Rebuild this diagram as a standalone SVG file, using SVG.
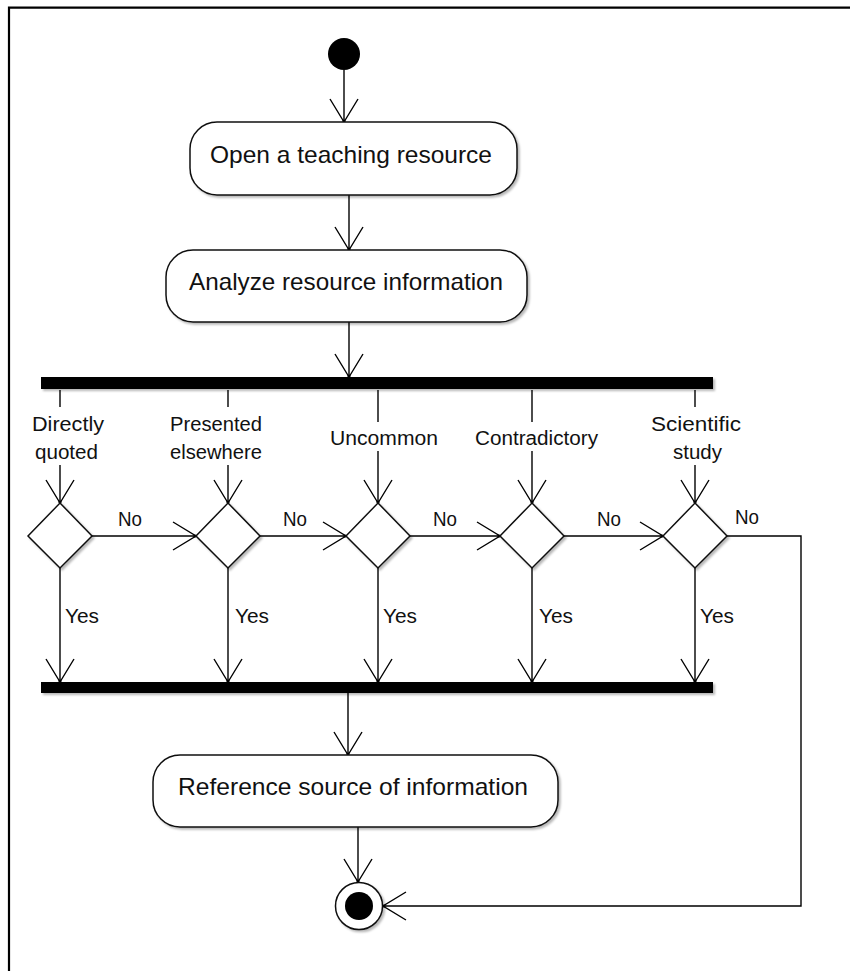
<svg xmlns="http://www.w3.org/2000/svg" width="850" height="971" viewBox="0 0 850 971">
  <style>
    .frame { fill: none; stroke: #000; stroke-width: 2.2; }
    .shape { fill: #fff; stroke: #111; stroke-width: 1.5; filter: url(#shadow); }
    .bar { fill: #000; filter: url(#shadow); }
    .edge { fill: none; stroke: #000; stroke-width: 1.4; }
    .big { font-family: "Liberation Sans", Arial, sans-serif; font-size: 24px; fill: #111; }
    .small { font-family: "Liberation Sans", Arial, sans-serif; font-size: 20px; fill: #111; }
  </style>
  <defs>
    <filter id="shadow" x="-10%" y="-10%" width="130%" height="140%">
      <feDropShadow dx="2" dy="2" stdDeviation="1" flood-color="#000" flood-opacity="0.28"/>
    </filter>
    <marker id="arrow" markerUnits="userSpaceOnUse" markerWidth="30" markerHeight="32" refX="24" refY="15" orient="auto" overflow="visible">
      <path d="M1,1 L24,15 L1,29" fill="none" stroke="#000" stroke-width="1.4"/>
      <circle cx="23" cy="15" r="1.6" fill="#000"/>
    </marker>
  </defs>

  <rect width="850" height="971" fill="#fff"/>
  <path class="frame" d="M9,971 V7.7 H850"/>

  <!-- connectors -->
  <g id="connectors">
    <line class="edge" x1="344" y1="70" x2="344" y2="122" marker-end="url(#arrow)"/>
    <line class="edge" x1="349" y1="195" x2="349" y2="250" marker-end="url(#arrow)"/>
    <line class="edge" x1="349" y1="322" x2="349" y2="377" marker-end="url(#arrow)"/>

    <!-- fork to decisions (interrupted by guard labels) -->
    <line class="edge" x1="60" y1="390" x2="60" y2="407"/>
    <line class="edge" x1="60" y1="465" x2="60" y2="503" marker-end="url(#arrow)"/>
    <line class="edge" x1="228" y1="390" x2="228" y2="407"/>
    <line class="edge" x1="228" y1="465" x2="228" y2="503" marker-end="url(#arrow)"/>
    <line class="edge" x1="378" y1="390" x2="378" y2="422"/>
    <line class="edge" x1="378" y1="451" x2="378" y2="503" marker-end="url(#arrow)"/>
    <line class="edge" x1="532" y1="390" x2="532" y2="422"/>
    <line class="edge" x1="532" y1="451" x2="532" y2="503" marker-end="url(#arrow)"/>
    <line class="edge" x1="695" y1="390" x2="695" y2="407"/>
    <line class="edge" x1="695" y1="465" x2="695" y2="503" marker-end="url(#arrow)"/>

    <!-- "No" chain -->
    <line class="edge" x1="92" y1="536" x2="196" y2="536" marker-end="url(#arrow)"/>
    <line class="edge" x1="260" y1="536" x2="346" y2="536" marker-end="url(#arrow)"/>
    <line class="edge" x1="410" y1="536" x2="500" y2="536" marker-end="url(#arrow)"/>
    <line class="edge" x1="564" y1="536" x2="663" y2="536" marker-end="url(#arrow)"/>
    <polyline class="edge" points="727,536 801,536 801,906 383,906" marker-end="url(#arrow)"/>

    <!-- "Yes" to join -->
    <line class="edge" x1="60" y1="568" x2="60" y2="682" marker-end="url(#arrow)"/>
    <line class="edge" x1="228" y1="568" x2="228" y2="682" marker-end="url(#arrow)"/>
    <line class="edge" x1="378" y1="568" x2="378" y2="682" marker-end="url(#arrow)"/>
    <line class="edge" x1="532" y1="568" x2="532" y2="682" marker-end="url(#arrow)"/>
    <line class="edge" x1="695" y1="568" x2="695" y2="682" marker-end="url(#arrow)"/>

    <line class="edge" x1="348" y1="693" x2="348" y2="755" marker-end="url(#arrow)"/>
    <line class="edge" x1="358" y1="827" x2="358" y2="882" marker-end="url(#arrow)"/>

    <!-- guard labels -->
    <text class="small" x="32" y="431" textLength="72" lengthAdjust="spacingAndGlyphs">Directly</text>
    <text class="small" x="35" y="459" textLength="63" lengthAdjust="spacingAndGlyphs">quoted</text>
    <text class="small" x="170" y="431" textLength="92" lengthAdjust="spacingAndGlyphs">Presented</text>
    <text class="small" x="170" y="459" textLength="92" lengthAdjust="spacingAndGlyphs">elsewhere</text>
    <text class="small" x="330" y="445" textLength="108" lengthAdjust="spacingAndGlyphs">Uncommon</text>
    <text class="small" x="475" y="445" textLength="123" lengthAdjust="spacingAndGlyphs">Contradictory</text>
    <text class="small" x="651" y="431" textLength="90" lengthAdjust="spacingAndGlyphs">Scientific</text>
    <text class="small" x="673" y="459" textLength="49" lengthAdjust="spacingAndGlyphs">study</text>

    <text class="small" x="118" y="526" textLength="24" lengthAdjust="spacingAndGlyphs">No</text>
    <text class="small" x="283" y="526" textLength="24" lengthAdjust="spacingAndGlyphs">No</text>
    <text class="small" x="433" y="526" textLength="24" lengthAdjust="spacingAndGlyphs">No</text>
    <text class="small" x="597" y="526" textLength="24" lengthAdjust="spacingAndGlyphs">No</text>
    <text class="small" x="735" y="524" textLength="24" lengthAdjust="spacingAndGlyphs">No</text>

    <text class="small" x="65" y="623" textLength="34" lengthAdjust="spacingAndGlyphs">Yes</text>
    <text class="small" x="235" y="623" textLength="34" lengthAdjust="spacingAndGlyphs">Yes</text>
    <text class="small" x="383" y="623" textLength="34" lengthAdjust="spacingAndGlyphs">Yes</text>
    <text class="small" x="539" y="623" textLength="34" lengthAdjust="spacingAndGlyphs">Yes</text>
    <text class="small" x="700" y="623" textLength="34" lengthAdjust="spacingAndGlyphs">Yes</text>
  </g>

  <!-- nodes -->
  <g id="start">
    <circle cx="344" cy="54" r="16" fill="#000"/>
  </g>

  <g id="open-resource">
    <rect class="shape" x="190" y="122" width="327" height="73" rx="27" ry="27"/>
    <text class="big" x="210" y="163" textLength="282" lengthAdjust="spacingAndGlyphs">Open a teaching resource</text>
  </g>

  <g id="analyze-info">
    <rect class="shape" x="166" y="250" width="361" height="72" rx="27" ry="27"/>
    <text class="big" x="189" y="290" textLength="314" lengthAdjust="spacingAndGlyphs">Analyze resource information</text>
  </g>

  <g id="fork">
    <rect class="bar" x="41" y="377" width="672" height="12"/>
  </g>

  <g id="decision-quoted">
    <polygon class="shape" points="60,503 92,536 60,568 28,536"/>
  </g>
  <g id="decision-elsewhere">
    <polygon class="shape" points="228,503 260,536 228,568 196,536"/>
  </g>
  <g id="decision-uncommon">
    <polygon class="shape" points="378,503 410,536 378,568 346,536"/>
  </g>
  <g id="decision-contradictory">
    <polygon class="shape" points="532,503 564,536 532,568 500,536"/>
  </g>
  <g id="decision-study">
    <polygon class="shape" points="695,503 727,536 695,568 663,536"/>
  </g>

  <g id="join">
    <rect class="bar" x="41" y="682" width="672" height="11"/>
  </g>

  <g id="reference-source">
    <rect class="shape" x="153" y="755" width="405" height="72" rx="27" ry="27"/>
    <text class="big" x="178" y="795" textLength="350" lengthAdjust="spacingAndGlyphs">Reference source of information</text>
  </g>

  <g id="end">
    <circle class="shape" cx="359" cy="906" r="23.5"/>
    <circle cx="359" cy="906" r="14" fill="#000"/>
  </g>
</svg>
